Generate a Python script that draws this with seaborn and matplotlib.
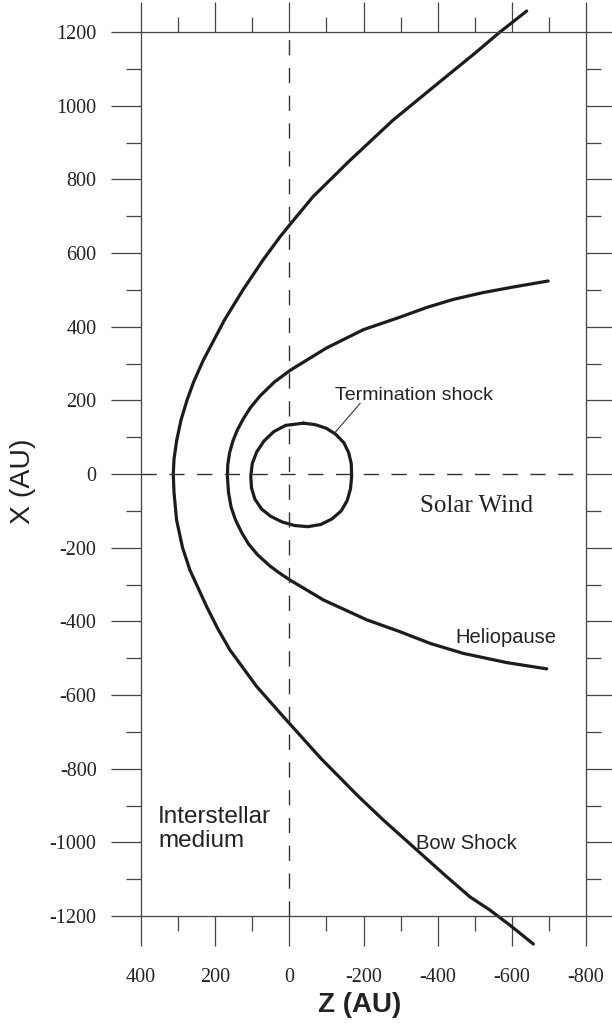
import numpy as np
import pandas as pd
import matplotlib
matplotlib.use('Agg')
import matplotlib.pyplot as plt
import seaborn as sns
from matplotlib.ticker import MultipleLocator

# curve points: Z (AU), X (AU)
bow_z = [-640, -610, -568, -500, -406, -280, -164, -64, -3, 25, 71, 125, 175, 232, 258, 276,
         292, 304, 311, 313, 311, 304, 288, 268, 223, 193, 160, 88, 16, -85, -186, -253,
         -344, -424, -487, -541, -595, -658]
bow_x = [1257, 1233, 1200, 1142, 1065, 961, 852, 753, 679, 644, 581, 500, 418, 309, 250, 200,
         147, 90, 40, 0, -50, -125, -200, -261, -360, -420, -478, -577, -659, -772, -875, -939,
         -1021, -1093, -1148, -1184, -1225, -1276]

helio_z = [-698, -600, -520, -442, -370, -299, -200, -100, -3, 40, 79, 105, 124, 140, 152,
           161, 166, 167, 164, 157, 145, 128, 110, 85, 52, 25, -2, -92, -209, -298, -380,
           -469, -586, -694]
helio_x = [524, 507, 492, 474, 452, 426, 392, 342, 282, 250, 212, 180, 150, 120, 90,
           58, 25, -7, -50, -90, -125, -160, -190, -220, -250, -270, -288, -342, -396, -428, -460,
           -487, -512, -529]

term_z = [-38, -70, -100, -125, -147, -160, -167, -168, -165, -156, -140, -115, -85, -50,
          -15, 20, 50, 75, 93, 102, 104, 100, 88, 68, 42, 10, -38]
term_x = [138, 134, 124, 108, 85, 58, 28, -7, -40, -72, -100, -122, -137, -143,
          -140, -130, -115, -95, -68, -38, -7, 28, 60, 90, 115, 132, 138]

z_ticks = [400, 200, 0, -200, -400, -600, -800]
x_ticks = [1200, 1000, 800, 600, 400, 200, 0, -200, -400, -600, -800, -1000, -1200]

sns.set_theme(style='white')
plt.rcParams['font.family'] = ['Liberation Serif', 'DejaVu Serif']

fig = plt.figure(figsize=(6.12, 10.23), dpi=100)
ax = fig.add_axes([141 / 612, 1 - 916 / 1023, 445 / 612, 884 / 1023])

line_col = '#1c1c1c'
for zz, xx in [(bow_z, bow_x), (helio_z, helio_x), (term_z, term_x)]:
    sns.lineplot(x=zz, y=xx, sort=False, estimator=None, ax=ax, color=line_col,
                 linewidth=2.3, clip_on=False)

ax.axvline(0, color='#333333', lw=1.0, dashes=(11, 9))
ax.axhline(0, color='#333333', lw=1.0, dashes=(11, 9))

ax.set_xlim(400, -800)
ax.set_ylim(-1200, 1200)
ax.set_xticks(z_ticks)
ax.set_yticks(x_ticks)
ax.set_xticklabels([str(v) for v in z_ticks])
ax.set_yticklabels([str(v) for v in x_ticks])
ax.xaxis.set_minor_locator(MultipleLocator(100))
ax.yaxis.set_minor_locator(MultipleLocator(100))

for s in ax.spines.values():
    s.set_visible(True)
    s.set_color('#444444')
    s.set_linewidth(0.9)

ax.tick_params(which='major', direction='out', length=21.5, width=0.9, color='#444444',
               top=True, right=True, bottom=True, left=True,
               labelsize=14.5, labelcolor='#222222')
ax.tick_params(which='minor', direction='out', length=10.5, width=0.9, color='#444444',
               top=True, right=True, bottom=True, left=True)
ax.tick_params(axis='x', which='major', pad=16)
ax.tick_params(axis='y', which='major', pad=10.5)

ax.set_xlabel('Z (AU)', family='Liberation Sans', fontsize=20, fontweight='bold', color='#222222')
ax.xaxis.set_label_coords(0.492, -0.1007)
ax.xaxis.label.set_va('center')
ax.set_ylabel('X (AU)', family='Liberation Sans', fontsize=20.5, color='#222222')
ax.yaxis.set_label_coords(-0.265, 0.492)
ax.yaxis.label.set_va('center')

# labels in the plot
sans = 'Liberation Sans'
ax.text(-123, 214, 'Termination shock', family=sans, fontsize=14, ha='left', va='center', color='#222222')
ax.plot([-121, -191], [110, 192], color='#333333', lw=0.8)
ax.text(-505, -86, 'Solar Wind', family='Liberation Serif', fontsize=18, ha='center', va='center', color='#222222')
ax.text(-584, -443, 'Heliopause', family=sans, fontsize=14.5, ha='center', va='center', color='#222222')
ax.text(-478, -1002, 'Bow Shock', family=sans, fontsize=14.5, ha='center', va='center', color='#222222')
ax.text(354, -964, 'Interstellar\nmedium', family=sans, fontsize=17.5, ha='left', va='center',
        linespacing=1.15, color='#222222')

fig.savefig('out.png', dpi=100)
